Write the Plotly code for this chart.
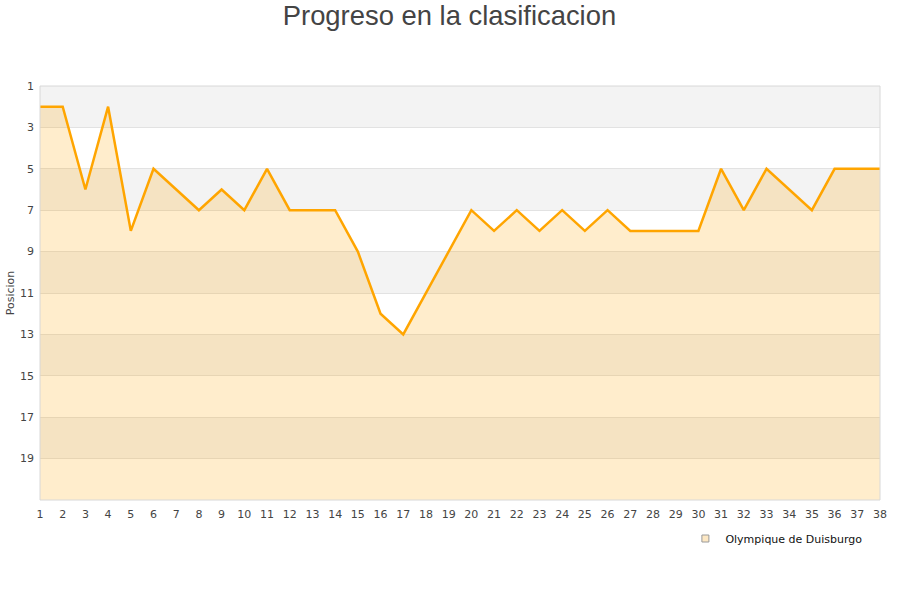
import plotly.graph_objects as go

jornadas = list(range(1, 39))
posiciones = [2, 2, 6, 2, 8, 5, 6, 7, 6, 7, 5, 7, 7, 7, 9, 12, 13, 11, 9, 7,
              8, 7, 8, 7, 8, 7, 8, 8, 8, 8, 5, 7, 5, 6, 7, 5, 5, 5]
equipo = "Olympique de Duisburgo"
y_ticks = list(range(1, 20, 2))
ultima_posicion = 21
bandas = [(1, 3), (5, 7), (9, 11), (13, 15), (17, 19)]

fig = go.Figure()

# baseline for the area fill (bottom of the reversed axis)
fig.add_trace(go.Scatter(
    x=jornadas, y=[ultima_posicion] * len(jornadas),
    mode="lines", line=dict(width=0), hoverinfo="skip", showlegend=False))

fig.add_trace(go.Scatter(
    x=jornadas, y=posiciones, mode="lines",
    line=dict(color="#ffa500", width=2.5),
    fill="tonexty", fillcolor="rgba(255,165,0,0.2)",
    showlegend=False, name=equipo))

# legend entry
fig.add_trace(go.Scatter(
    x=[None], y=[None], mode="markers", name=equipo,
    marker=dict(symbol="square", size=7, color="#fde8c4",
                line=dict(color="#9a9a9a", width=1)),
    showlegend=True))

shapes = []
for a, b in bandas:
    shapes.append(dict(type="rect", xref="paper", x0=0, x1=1, yref="y", y0=a, y1=b,
                       fillcolor="#f3f3f3", line=dict(width=0), layer="below"))
shapes.append(dict(type="rect", xref="paper", yref="paper", x0=0, x1=1, y0=0, y1=1,
                   line=dict(color="#d8d8d8", width=1), fillcolor="rgba(0,0,0,0)",
                   layer="above"))

fig.update_layout(
    width=900, height=600,
    margin=dict(l=40, r=20, t=86, b=100),
    paper_bgcolor="white", plot_bgcolor="white",
    title=dict(text="Progreso en la clasificacion", x=0.4994, xanchor="center",
               y=0.975, yanchor="middle",
               font=dict(family="Liberation Sans, Arial, sans-serif", size=27.4, color="#444444")),
    shapes=shapes,
    font=dict(family="DejaVu Sans, sans-serif", size=11, color="#444444"),
    xaxis=dict(range=[1, 38], tickmode="array", tickvals=jornadas,
               ticktext=[str(j) for j in jornadas], showgrid=False, zeroline=False,
               showline=False, ticks="", automargin=False, ticklabelstandoff=6,
               tickfont=dict(size=11, color="#444444")),
    yaxis=dict(range=[ultima_posicion, 1], tickmode="array", tickvals=y_ticks,
               showgrid=True, gridcolor="#e2e2e2", gridwidth=1, zeroline=False,
               showline=False, ticks="", automargin=False, ticklabelstandoff=5,
               tickfont=dict(size=11, color="#444444"),
               title=dict(text="Posicion", font=dict(size=11, color="#444444"), standoff=3)),
    legend=dict(orientation="h", x=0.985, xanchor="right", y=-0.058, yanchor="top",
                font=dict(family="DejaVu Sans, sans-serif", size=11, color="#111111"),
                bgcolor="rgba(0,0,0,0)"),
    hovermode=False,
)

fig.write_html("out.html", config={"displayModeBar": False},
               post_script="document.body.style.margin='0';")
